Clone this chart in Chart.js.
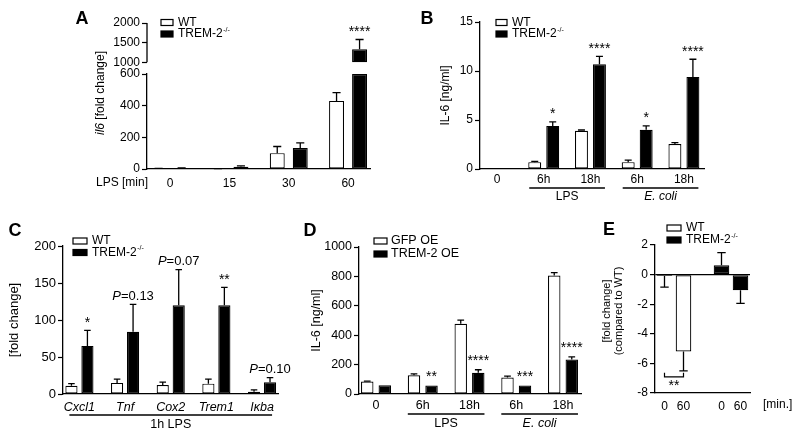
<!DOCTYPE html>
<html><head><meta charset="utf-8">
<script src="https://cdn.jsdelivr.net/npm/chart.js@4.4.0/dist/chart.umd.min.js"></script>
<style>
html,body{margin:0;padding:0;background:#fff;}
#wrap{position:relative;width:800px;height:438px;background:#fff;}
canvas{position:absolute;left:0;top:0;}
</style></head>
<body><div id="wrap">
<canvas id="cA" width="800" height="438"></canvas>
<canvas id="cB" width="800" height="438"></canvas>
<canvas id="cC" width="800" height="438"></canvas>
<canvas id="cD" width="800" height="438"></canvas>
<canvas id="cE" width="800" height="438"></canvas>
</div>
<script>
// ---------------- DATA ----------------
const seriesKO = ['WT', 'TREM-2'];          // TREM-2 carries superscript -/-
const koSup = '-/-';
const seriesOE = ['GFP OE', 'TREM-2 OE'];

// Panel A: il6 fold change vs LPS time
const catsA = ['0', '15', '30', '60'];
const wtA = [3, 2, 100, 430];
const wtAErr = [1, 1, 42, 52];
const koA = [6, 15, 133, 1330];
const koAErr = [1, 5, 32, 250];
const sigA = ['', '', '', '****'];
const yTicksALow = [0, 200, 400, 600];
const yTicksAHigh = [1000, 1500, 2000];

// Panel B: IL-6 ng/ml
const catsB = ['0', '6h', '18h', '6h', '18h'];
const wtB = [0, 0.7, 3.9, 0.7, 2.55];
const wtBErr = [0, 0.08, 0.08, 0.2, 0.15];
const koB = [0, 4.4, 10.7, 4.0, 9.4];
const koBErr = [0, 0.4, 0.8, 0.4, 1.8];
const sigB = ['', '*', '****', '*', '****'];
const groupsB = ['LPS', 'E. coli'];
const groupSpansB = [[1, 2], [3, 4]];

// Panel C: fold change, 1h LPS
const catsC = ['Cxcl1', 'Tnf', 'Cox2', 'Trem1', 'Iκba'];
const wtC = [11, 15, 12, 14, 3];
const wtCErr = [3, 5, 4, 6, 2.5];
const koC = [65, 84, 120, 120, 16];
const koCErr = [21, 37, 48, 24, 6];
const sigC = ['*', 'P=0.13', 'P=0.07', '**', 'P=0.10'];
const groupsC = ['1h LPS'];
const groupSpansC = [[0, 4]];

// Panel D: IL-6 ng/ml, overexpression
const catsD = ['0', '6h', '18h', '6h', '18h'];
const gfpD = [85, 127, 478, 112, 806];
const gfpDErr = [3, 10, 25, 10, 20];
const oeD = [60, 58, 145, 58, 235];
const oeDErr = [0, 0, 20, 0, 18];
const sigD = ['', '**', '****', '***', '****'];
const groupsD = ['LPS', 'E. coli'];
const groupSpansD = [[1, 2], [3, 4]];

// Panel E: fold change compared to WT
const catsE = ['0', '60'];
const wtE = [-0.1, -5.2];
const wtEErr = [0.75, 1.3];
const koE = [0.63, -1.05];
const koEErr = [0.85, 0.9];
const sigE = '**';

// ---------------- STYLE / HELPERS ----------------
const FONT = "'Liberation Sans', Arial, Helvetica, sans-serif";
Chart.defaults.font.family = FONT;
Chart.defaults.color = '#000';
Chart.defaults.animation = false;
Chart.defaults.events = [];
Chart.defaults.responsive = false;
Chart.defaults.plugins.legend.display = false;
Chart.defaults.plugins.tooltip.enabled = false;

const wtStyle = {backgroundColor: '#fff', borderColor: '#000', borderWidth: 1.2, borderSkipped: false};
const koStyle = {backgroundColor: '#000', borderColor: '#000', borderWidth: 1.2, borderSkipped: false};
const AXW = 1.3;
const plain = (v) => String(v);

function yAxis(size, width, extra) {
  const tk = {font: {size}, color: '#000', padding: 2, callback: plain, autoSkip: false};
  const base = {
    type: 'linear', position: 'left',
    ticks: tk,
    grid: {display: true, drawOnChartArea: false, drawTicks: true, tickLength: 5, tickColor: '#000', tickWidth: 1.2},
    border: {display: true, color: '#000', width: AXW},
    afterFit(s) { s.width = width; }
  };
  const out = Object.assign(base, extra);
  if (extra && extra.ticks) out.ticks = Object.assign({}, tk, extra.ticks);
  return out;
}
function yTitle(text, size, lh) {
  return {display: true, text, color: '#000', font: {size, lineHeight: lh || 1.2}, padding: {top: 4, bottom: 4}};
}
function xLinear(cats, min, max, size, pad, italic) {
  return {
    type: 'linear', position: 'bottom', min, max, offset: false,
    afterBuildTicks(s) { s.ticks = cats.map((c, i) => ({value: i})); },
    ticks: {autoSkip: false, maxRotation: 0, minRotation: 0, padding: pad, color: '#000',
      font: {size, style: italic ? 'italic' : 'normal'},
      callback: (v) => (cats[v] !== undefined ? cats[v] : '')},
    grid: {display: false, drawTicks: false},
    border: {display: true, color: '#000', width: AXW},
    afterFit(s) { s.height = 40; }
  };
}

// ---------------- PLUGINS ----------------
const errorBars = {
  id: 'errorBars',
  afterDatasetsDraw(chart) {
    const ctx = chart.ctx;
    chart.data.datasets.forEach((ds, di) => {
      if (!ds.errors) return;
      const meta = chart.getDatasetMeta(di);
      const ys = chart.scales[meta.yAxisID];
      meta.data.forEach((bar, j) => {
        const raw = ds.data[j], e = ds.errors[j];
        if (raw == null || !e) return;
        const v = Array.isArray(raw) ? Math.max(...raw) : raw;
        const s = v < 0 ? -1 : 1;
        const y0 = ys.getPixelForValue(v), y1 = ys.getPixelForValue(v + s * e);
        const cw = bar.width * 0.27;
        ctx.save();
        ctx.strokeStyle = '#000'; ctx.lineWidth = 1.3;
        ctx.beginPath();
        ctx.moveTo(bar.x, y0); ctx.lineTo(bar.x, y1);
        ctx.moveTo(bar.x - cw, y1); ctx.lineTo(bar.x + cw, y1);
        ctx.stroke();
        ctx.restore();
      });
    });
  }
};

const sigMarks = {
  id: 'sigMarks',
  afterDatasetsDraw(chart, args, o) {
    if (!o.texts) return;
    const ctx = chart.ctx;
    o.texts.forEach((t, j) => {
      if (!t) return;
      let best = null;
      o.datasets.forEach(di => {
        const ds = chart.data.datasets[di], raw = ds.data[j];
        if (raw == null) return;
        const meta = chart.getDatasetMeta(di);
        const ys = chart.scales[meta.yAxisID];
        const v = Array.isArray(raw) ? Math.max(...raw) : raw;
        const e = (ds.errors && ds.errors[j]) || 0;
        const py = ys.getPixelForValue(v + e);
        if (!best || py < best.y) best = {x: meta.data[j].x, y: py};
      });
      if (!best) return;
      const isP = t.startsWith('P=');
      const size = isP ? o.pSize : o.starSize;
      const base = best.y + (isP ? o.pOffset : o.starOffset);
      ctx.save();
      ctx.fillStyle = '#000'; ctx.textBaseline = 'alphabetic';
      if (isP) {
        const f1 = `italic ${size}px ${FONT}`, f2 = `${size}px ${FONT}`;
        ctx.font = f1; const w1 = ctx.measureText('P').width;
        const rest = t.slice(1);
        ctx.font = f2; const w2 = ctx.measureText(rest).width;
        const x0 = best.x - (w1 + w2) / 2;
        ctx.textAlign = 'left';
        ctx.font = f1; ctx.fillText('P', x0, base);
        ctx.font = f2; ctx.fillText(rest, x0 + w1, base);
      } else {
        ctx.font = `${size}px ${FONT}`; ctx.textAlign = 'center';
        ctx.fillText(t, best.x, base);
      }
      ctx.restore();
    });
  }
};

const groupLines = {
  id: 'groupLines',
  afterDraw(chart, args, o) {
    if (!o.names) return;
    const xs = chart.scales.x, ctx = chart.ctx;
    const step = xs.getPixelForValue(1) - xs.getPixelForValue(0);
    o.names.forEach((n, k) => {
      const [a, b] = o.spans[k];
      const x0 = xs.getPixelForValue(a) - o.ext * step;
      const x1 = xs.getPixelForValue(b) + o.ext * step;
      ctx.save();
      ctx.strokeStyle = '#000'; ctx.lineWidth = 1.3;
      ctx.beginPath(); ctx.moveTo(x0, o.lineY); ctx.lineTo(x1, o.lineY); ctx.stroke();
      ctx.font = `${o.italic && o.italic[k] ? 'italic ' : ''}${o.size}px ${FONT}`;
      ctx.textAlign = 'center'; ctx.textBaseline = 'middle'; ctx.fillStyle = '#000';
      ctx.fillText(n, (x0 + x1) / 2, o.labelY);
      ctx.restore();
    });
  }
};

const boxLegend = {
  id: 'boxLegend',
  afterDraw(chart, args, o) {
    if (!o.items) return;
    const ctx = chart.ctx;
    o.items.forEach((it, k) => {
      const cy = o.y + k * o.dy;
      ctx.save();
      ctx.fillStyle = it.fill; ctx.strokeStyle = '#000'; ctx.lineWidth = 1.2;
      ctx.fillRect(o.x, cy - o.boxH / 2, o.boxW, o.boxH);
      ctx.strokeRect(o.x, cy - o.boxH / 2, o.boxW, o.boxH);
      ctx.fillStyle = '#000'; ctx.font = `${o.size}px ${FONT}`;
      ctx.textBaseline = 'middle'; ctx.textAlign = 'left';
      const tx = o.x + o.boxW + o.gap;
      ctx.fillText(it.text, tx, cy);
      if (it.sup) {
        const w = ctx.measureText(it.text).width;
        ctx.font = `${Math.round(o.size * 0.62)}px ${FONT}`;
        ctx.fillText(it.sup, tx + w + 0.5, cy - o.size * 0.33);
      }
      ctx.restore();
    });
  }
};

const freeText = {
  id: 'freeText',
  afterDraw(chart, args, o) {
    if (!o.items) return;
    const ctx = chart.ctx;
    o.items.forEach(it => {
      ctx.save();
      ctx.fillStyle = '#000';
      ctx.translate(it.x, it.y);
      if (it.rot) ctx.rotate(it.rot);
      ctx.textBaseline = 'middle';
      const parts = it.parts || [{text: it.text, font: it.font}];
      let total = 0;
      parts.forEach(p => { ctx.font = `${p.font} ${FONT}`; p.w = ctx.measureText(p.text).width; total += p.w; });
      let x = it.align === 'right' ? -total : it.align === 'left' ? 0 : -total / 2;
      ctx.textAlign = 'left';
      parts.forEach(p => { ctx.font = `${p.font} ${FONT}`; ctx.fillText(p.text, x, 0); x += p.w; });
      ctx.restore();
    });
  }
};

const axisBreakA = {
  id: 'axisBreakA',
  afterDraw(chart) {
    const s = chart.scales.yTop; if (!s) return;
    const ctx = chart.ctx;
    ctx.save(); ctx.strokeStyle = '#000'; ctx.lineWidth = AXW;
    ctx.beginPath();
    ctx.moveTo(s.right, s.getPixelForValue(yTicksAHigh[0]));
    ctx.lineTo(s.right, s.getPixelForValue(yTicksAHigh[yTicksAHigh.length - 1]));
    ctx.stroke(); ctx.restore();
  }
};

const bracketE = {
  id: 'bracketE',
  afterDatasetsDraw(chart, args, o) {
    if (!o.text) return;
    const ctx = chart.ctx;
    const ds = chart.data.datasets[0], meta = chart.getDatasetMeta(0), ys = chart.scales.y;
    const a = meta.data[0], b = meta.data[1];
    let low = -Infinity;
    [0, 1].forEach(j => {
      const v = ds.data[j], e = ds.errors[j] || 0;
      low = Math.max(low, ys.getPixelForValue(v - e));
    });
    const y = low + 6;
    ctx.save(); ctx.strokeStyle = '#000'; ctx.lineWidth = 1.2;
    ctx.beginPath();
    ctx.moveTo(a.x, y - 4); ctx.lineTo(a.x, y); ctx.lineTo(b.x, y); ctx.lineTo(b.x, y - 4);
    ctx.stroke();
    ctx.fillStyle = '#000'; ctx.font = `14px ${FONT}`; ctx.textAlign = 'center'; ctx.textBaseline = 'alphabetic';
    ctx.fillText(o.text, (a.x + b.x) / 2, y + 13);
    ctx.restore();
  }
};

const ALL = [errorBars, sigMarks, groupLines, boxLegend, freeText];
const legendKO = (x, y, dy, size, boxW) => ({
  x, y, dy, size, boxW: boxW || 12, boxH: 6, gap: 5,
  items: [{text: seriesKO[0], fill: '#fff'}, {text: seriesKO[1], sup: koSup, fill: '#000'}]
});

// ---------------- PANEL A ----------------
const A_LOW_MAX = yTicksALow[yTicksALow.length - 1];
const A_HIGH_MIN = yTicksAHigh[0];
new Chart(document.getElementById('cA'), {
  type: 'bar',
  data: {
    labels: catsA.map((c, i) => i),
    datasets: [
      Object.assign({label: seriesKO[0], data: wtA, errors: wtAErr, yAxisID: 'y', stack: 'wt'}, wtStyle),
      Object.assign({label: seriesKO[1], data: koA.map(v => Math.min(v, A_LOW_MAX)),
        errors: koAErr.map((e, i) => koA[i] <= A_LOW_MAX ? e : 0), yAxisID: 'y', stack: 'ko'}, koStyle),
      Object.assign({label: seriesKO[1], data: koA.map(v => v >= A_HIGH_MIN ? [A_HIGH_MIN, v] : null),
        errors: koAErr.map((e, i) => koA[i] >= A_HIGH_MIN ? e : 0), yAxisID: 'yTop', stack: 'ko'}, koStyle)
    ]
  },
  options: {
    layout: {padding: {left: 100, right: 430, top: 23, bottom: 229}},
    datasets: {bar: {categoryPercentage: 0.776, barPercentage: 0.65}},
    scales: {
      x: xLinear(catsA, -0.39, 3.37, 12, 7),
      y: yAxis(12, 47, {stack: 'A', stackWeight: 95, min: 0, max: A_LOW_MAX,
        afterBuildTicks(s) { s.ticks = yTicksALow.map(v => ({value: v})); }}),
      yTop: yAxis(12, 47, {stack: 'A', stackWeight: 51, min: 700, max: yTicksAHigh[yTicksAHigh.length - 1],
        border: {display: false},
        afterBuildTicks(s) { s.ticks = yTicksAHigh.map(v => ({value: v})); }})
    },
    plugins: {
      sigMarks: {texts: sigA, datasets: [1, 2], starSize: 14, starOffset: -3.5},
      boxLegend: legendKO(161, 22.5, 11.5, 12, 12),
      freeText: {items: [
        {text: 'A', font: 'bold 18px', x: 82, y: 19},
        {text: 'LPS [min]', font: '12px', x: 148, y: 183, align: 'right'},
        {parts: [{text: 'il6', font: 'italic 12px'}, {text: ' [fold change]', font: '12px'}], x: 101, y: 93, rot: -Math.PI / 2}
      ]}
    }
  },
  plugins: ALL.concat([axisBreakA])
});

// ---------------- PANEL B ----------------
new Chart(document.getElementById('cB'), {
  type: 'bar',
  data: {
    labels: catsB.map((c, i) => i),
    datasets: [
      Object.assign({label: seriesKO[0], data: wtB, errors: wtBErr}, wtStyle),
      Object.assign({label: seriesKO[1], data: koB, errors: koBErr}, koStyle)
    ]
  },
  options: {
    layout: {padding: {left: 434, right: 96, top: 22, bottom: 229}},
    datasets: {bar: {categoryPercentage: 0.77, barPercentage: 0.72}},
    scales: {
      x: xLinear(catsB, -0.364, 4.43, 12, 3),
      y: yAxis(12, 46, {min: 0, max: 15, ticks: {stepSize: 5},
        title: yTitle('IL-6 [ng/ml]', 12)})
    },
    plugins: {
      sigMarks: {texts: sigB, datasets: [1], starSize: 14, starOffset: -3.5},
      groupLines: {names: groupsB, spans: groupSpansB, ext: 0.31, lineY: 188, labelY: 197, size: 12, italic: [false, true]},
      boxLegend: legendKO(496, 22.5, 11.5, 12, 11),
      freeText: {items: [{text: 'B', font: 'bold 18px', x: 427, y: 19}]}
    }
  },
  plugins: ALL
});

// ---------------- PANEL C ----------------
new Chart(document.getElementById('cC'), {
  type: 'bar',
  data: {
    labels: catsC.map((c, i) => i),
    datasets: [
      Object.assign({label: seriesKO[0], data: wtC, errors: wtCErr}, wtStyle),
      Object.assign({label: seriesKO[1], data: koC, errors: koCErr}, koStyle)
    ]
  },
  options: {
    layout: {padding: {left: 3, right: 522, top: 246, bottom: 4}},
    datasets: {bar: {categoryPercentage: 0.70, barPercentage: 0.76}},
    scales: {
      x: xLinear(catsC, -0.36, 4.35, 12.5, 6, true),
      y: yAxis(13, 60, {min: 0, max: 200, ticks: {stepSize: 50},
        title: yTitle('[fold change]', 13)})
    },
    plugins: {
      sigMarks: {texts: sigC, datasets: [1], starSize: 14, starOffset: -3, pSize: 13, pOffset: -4.5},
      groupLines: {names: groupsC, spans: groupSpansC, ext: 0.22, lineY: 415, labelY: 425, size: 12.5},
      boxLegend: legendKO(73, 241, 11.5, 12, 14),
      freeText: {items: [{text: 'C', font: 'bold 18px', x: 15, y: 231}]}
    }
  },
  plugins: ALL
});

// ---------------- PANEL D ----------------
new Chart(document.getElementById('cD'), {
  type: 'bar',
  data: {
    labels: catsD.map((c, i) => i),
    datasets: [
      Object.assign({label: seriesOE[0], data: gfpD, errors: gfpDErr}, wtStyle),
      Object.assign({label: seriesOE[1], data: oeD, errors: oeDErr}, koStyle)
    ]
  },
  options: {
    layout: {padding: {left: 305, right: 219, top: 247, bottom: 4}},
    datasets: {bar: {categoryPercentage: 0.75, barPercentage: 0.71}},
    scales: {
      x: xLinear(catsD, -0.364, 4.385, 12.5, 4),
      y: yAxis(12.5, 54, {min: 0, max: 1000, ticks: {stepSize: 200},
        title: yTitle('IL-6 [ng/ml]', 12.5)})
    },
    plugins: {
      sigMarks: {texts: sigD, datasets: [1], starSize: 14, starOffset: -4.5},
      groupLines: {names: groupsD, spans: groupSpansD, ext: 0.32, lineY: 414, labelY: 424, size: 12.5, italic: [false, true]},
      boxLegend: {x: 374, y: 241, dy: 13, size: 12.5, boxW: 13, boxH: 6, gap: 4,
        items: [{text: seriesOE[0], fill: '#fff'}, {text: seriesOE[1], fill: '#000'}]},
      freeText: {items: [{text: 'D', font: 'bold 18px', x: 310, y: 231}]}
    }
  },
  plugins: ALL
});

// ---------------- PANEL E ----------------
const labelsE = [...catsE, '', ...catsE];
const padE = Array(catsE.length + 1).fill(null);
new Chart(document.getElementById('cE'), {
  type: 'bar',
  data: {
    labels: labelsE,
    datasets: [
      Object.assign({label: seriesKO[0], data: [...wtE, ...padE], errors: [...wtEErr, ...padE]}, wtStyle),
      Object.assign({label: seriesKO[1], data: [...padE, ...koE], errors: [...padE, ...koEErr]}, koStyle)
    ]
  },
  options: {
    layout: {padding: {left: 597, right: 50, top: 245, bottom: 5}},
    datasets: {bar: {categoryPercentage: 1, barPercentage: 0.82, skipNull: true}},
    scales: {
      x: {type: 'category', offset: true, grid: {display: false, drawTicks: false},
        border: {display: true, color: '#000', width: AXW},
        ticks: {autoSkip: false, maxRotation: 0, padding: 6, font: {size: 12}, color: '#000'},
        afterFit(s) { s.height = 40; }},
      y: yAxis(12, 58, {min: -8, max: 2, ticks: {stepSize: 2},
        grid: {display: true, drawOnChartArea: true, drawTicks: true, tickLength: 5, tickColor: '#000', tickWidth: 1.2,
          lineWidth: 1.2, color: (c) => (c.tick && c.tick.value === 0 ? '#000' : 'rgba(0,0,0,0)')}})
    },
    plugins: {
      bracketE: {text: sigE},
      boxLegend: legendKO(667, 228, 12, 12, 14),
      freeText: {items: [
        {text: 'E', font: 'bold 18px', x: 609, y: 230},
        {text: '[min.]', font: '12px', x: 763, y: 405, align: 'left'},
        {text: '[fold change]', font: '11px', x: 607, y: 311, rot: -Math.PI / 2},
        {text: '(compared to WT)', font: '11px', x: 619, y: 311, rot: -Math.PI / 2}
      ]}
    }
  },
  plugins: [errorBars, boxLegend, freeText, bracketE]
});
</script>
</body></html>
